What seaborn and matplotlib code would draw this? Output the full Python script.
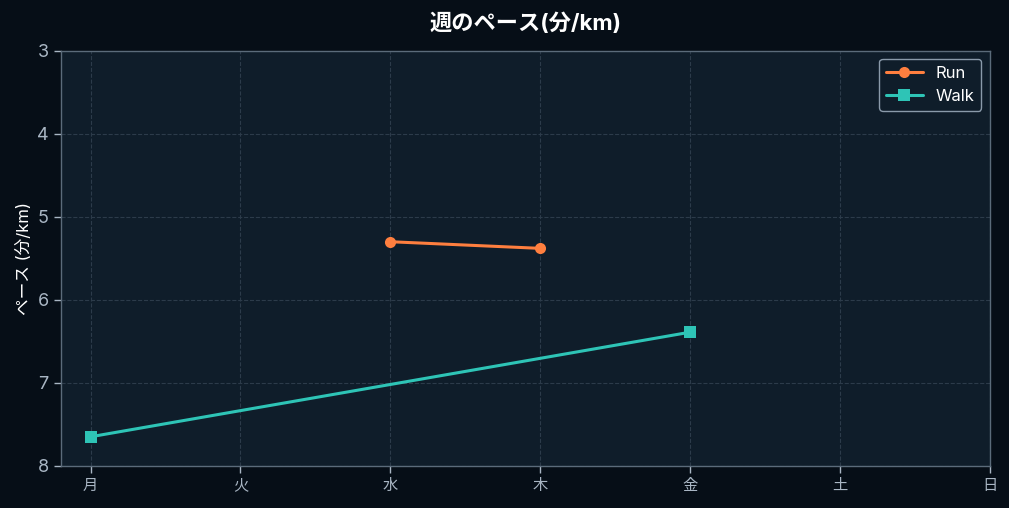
import numpy as np
import pandas as pd
import matplotlib
matplotlib.use("Agg")
import matplotlib.pyplot as plt
import seaborn as sns

# --- data ---
days = ["月", "火", "水", "木", "金", "土", "日"]
run_pace = [np.nan, np.nan, 5.30, 5.38, np.nan, np.nan, np.nan]
walk_pace = [7.65, np.nan, np.nan, np.nan, 6.39, np.nan, np.nan]

BG = "#060e17"
AX_BG = "#0f1d2a"
RUN_C = "#ff7f3f"
WALK_C = "#2ec4b6"
SPINE_C = "#5b6b7a"
TICK_C = "#a9b6c4"

sns.set_theme(style="dark")
plt.rcParams["font.family"] = ["Inter", "Noto Sans CJK JP", "DejaVu Sans"]

df = pd.DataFrame({
    "day_idx": list(range(len(days))) * 2,
    "pace": run_pace + walk_pace,
    "type": ["Run"] * len(days) + ["Walk"] * len(days),
}).dropna()

fig, ax = plt.subplots(figsize=(10.09, 5.08), dpi=100)
fig.patch.set_facecolor(BG)
ax.set_facecolor(AX_BG)

sns.lineplot(
    data=df, x="day_idx", y="pace", hue="type", style="type",
    palette={"Run": RUN_C, "Walk": WALK_C},
    markers={"Run": "o", "Walk": "s"}, dashes=False,
    markersize=8, markeredgewidth=0, linewidth=2.2, sort=False, ax=ax,
)

ax.set_xlim(-0.2, 6)
ax.set_ylim(8, 3)
ax.set_xticks(range(len(days)))
ax.set_xticklabels(days)
ax.set_yticks([3, 4, 5, 6, 7, 8])
ax.grid(True, color="#2c3b4a", linestyle="--", linewidth=0.8)
ax.tick_params(colors=TICK_C, length=5, width=1, bottom=True, left=True)
ax.tick_params(axis="y", labelsize=13)
ax.tick_params(axis="x", labelsize=11)
for side in ["top", "right", "bottom", "left"]:
    ax.spines[side].set_color(SPINE_C)
    ax.spines[side].set_linewidth(1)

ax.set_xlabel("")
ax.set_ylabel("ペース (分/km)", color="white", fontsize=12)
ax.set_title("週のペース(分/km)", color="white", fontsize=16, fontweight="bold", pad=15)

leg = ax.legend(loc="upper right", fontsize=12, facecolor=AX_BG, edgecolor="#8a9aaa",
                framealpha=1, handlelength=2.2)
for t in leg.get_texts():
    t.set_color("white")

plt.subplots_adjust(left=0.06, right=0.981, top=0.9, bottom=0.083)
plt.savefig("out.png", dpi=100, facecolor=BG)
